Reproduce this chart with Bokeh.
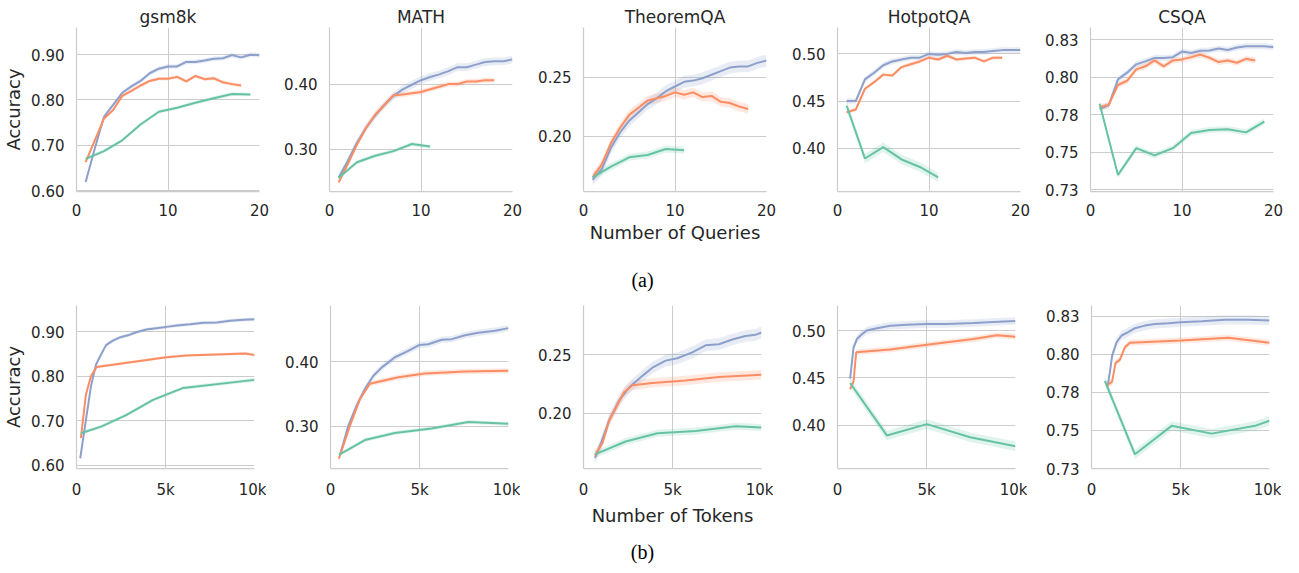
from bokeh.plotting import figure
from bokeh.layouts import column, row
from bokeh.models import Range1d, FixedTicker, Label
from bokeh.embed import file_html
from bokeh.resources import INLINE

# ---------------- data ----------------
datasets = ["gsm8k", "MATH", "TheoremQA", "HotpotQA", "CSQA"]
color_blue, color_orange, color_green = "#8da0cb", "#fc8d62", "#66c2a5"

# (a) accuracy vs number of queries
queries_blue = [1, 2, 3, 4, 5, 6, 7, 8, 9, 10, 11, 12, 13, 14, 15, 16, 17, 18, 19, 20]
queries_orange = [1, 2, 3, 4, 5, 6, 7, 8, 9, 10, 11, 12, 13, 14, 15, 16, 17, 18]
queries_green_long = [1, 3, 5, 7, 9, 11, 13, 15, 17, 19]
queries_green_short = [1, 3, 5, 7, 9, 11]

gsm8k_q_blue = [0.619, 0.693, 0.763, 0.789, 0.816, 0.830, 0.842, 0.859, 0.869, 0.874,
                0.874, 0.884, 0.884, 0.887, 0.891, 0.892, 0.899, 0.894, 0.900, 0.899]
gsm8k_q_orange = [0.663, 0.711, 0.759, 0.778, 0.809, 0.820, 0.832, 0.842, 0.847, 0.847,
                  0.851, 0.841, 0.853, 0.846, 0.848, 0.839, 0.835, 0.832]
gsm8k_q_green = [0.670, 0.687, 0.711, 0.746, 0.774, 0.783, 0.794, 0.804, 0.813, 0.812]

math_q_blue = [0.256, 0.282, 0.310, 0.333, 0.352, 0.368, 0.382, 0.392, 0.399, 0.406,
               0.411, 0.415, 0.420, 0.426, 0.426, 0.430, 0.434, 0.435, 0.435, 0.438]
math_q_orange = [0.249, 0.277, 0.307, 0.333, 0.353, 0.368, 0.383, 0.384, 0.386, 0.388,
                 0.392, 0.396, 0.400, 0.400, 0.404, 0.404, 0.406, 0.406]
math_q_green = [0.256, 0.280, 0.290, 0.297, 0.308, 0.304]

theoremqa_q_blue = [0.163, 0.172, 0.190, 0.203, 0.213, 0.220, 0.227, 0.232, 0.238, 0.242,
                    0.246, 0.247, 0.249, 0.252, 0.255, 0.258, 0.259, 0.259, 0.262, 0.264]
theoremqa_q_orange = [0.165, 0.176, 0.194, 0.207, 0.218, 0.224, 0.230, 0.232, 0.234, 0.237,
                      0.235, 0.237, 0.233, 0.234, 0.229, 0.228, 0.225, 0.223]
theoremqa_q_green = [0.165, 0.174, 0.182, 0.184, 0.189, 0.188]

hotpotqa_q_blue = [0.450, 0.450, 0.473, 0.480, 0.488, 0.492, 0.494, 0.496, 0.496, 0.500,
                   0.499, 0.500, 0.502, 0.501, 0.502, 0.502, 0.503, 0.504, 0.504, 0.504]
hotpotqa_q_orange = [0.438, 0.441, 0.463, 0.470, 0.478, 0.477, 0.486, 0.489, 0.492, 0.496,
                     0.494, 0.498, 0.494, 0.495, 0.496, 0.492, 0.496, 0.496]
hotpotqa_q_green = [0.445, 0.389, 0.401, 0.388, 0.380, 0.369]

csqa_q_blue = [0.7788, 0.7815, 0.7985, 0.8030, 0.8085, 0.8105, 0.8128, 0.8128, 0.8133, 0.8170,
               0.8160, 0.8175, 0.8177, 0.8190, 0.8180, 0.8197, 0.8205, 0.8205, 0.8205, 0.8200]
csqa_q_orange = [0.7800, 0.7817, 0.7948, 0.7976, 0.8052, 0.8072, 0.8111, 0.8072, 0.8111, 0.8118,
                 0.8133, 0.8150, 0.8129, 0.8100, 0.8111, 0.8096, 0.8122, 0.8111]
csqa_q_green = [0.7824, 0.7350, 0.7528, 0.7480, 0.7528, 0.7629, 0.7648, 0.7654, 0.7633, 0.7705]

# (b) accuracy vs number of tokens
gsm8k_t_blue_x = [210, 530, 810, 1090, 1380, 1660, 2040, 2415, 2890, 3360, 3920, 4490, 5060,
                  5620, 6380, 7130, 7890, 8640, 9400, 10000]
gsm8k_t_blue = [0.616, 0.702, 0.777, 0.826, 0.849, 0.870, 0.880, 0.887, 0.892, 0.899, 0.905,
                0.908, 0.911, 0.914, 0.917, 0.920, 0.921, 0.925, 0.927, 0.928]
gsm8k_t_orange_x = [245, 530, 810, 1130, 5060, 6190, 9490, 10000]
gsm8k_t_orange = [0.661, 0.759, 0.800, 0.821, 0.843, 0.847, 0.851, 0.848]
gsm8k_t_green_x = [245, 1380, 2790, 4300, 6000, 10000]
gsm8k_t_green = [0.672, 0.687, 0.713, 0.747, 0.774, 0.792]

math_t_blue_x = [525, 1000, 1460, 1930, 2400, 2870, 3620, 4370, 5000, 5490, 6250, 6810, 7560,
                 8310, 9250, 10000]
math_t_blue = [0.255, 0.301, 0.332, 0.358, 0.378, 0.391, 0.407, 0.417, 0.426, 0.427, 0.434,
               0.435, 0.441, 0.445, 0.448, 0.452]
math_t_orange_x = [470, 1090, 1650, 2210, 3810, 5310, 7560, 10000]
math_t_orange = [0.250, 0.301, 0.342, 0.366, 0.376, 0.382, 0.385, 0.386]
math_t_green_x = [470, 1930, 3620, 5680, 7750, 10000]
math_t_green = [0.256, 0.279, 0.290, 0.297, 0.307, 0.304]

theoremqa_t_blue_x = [640, 970, 1440, 2000, 2560, 3310, 3870, 4620, 5270, 6110, 6860, 7610,
                      8360, 9100, 9660, 10000]
theoremqa_t_blue = [0.162, 0.174, 0.194, 0.211, 0.222, 0.232, 0.239, 0.245, 0.247, 0.252,
                    0.258, 0.259, 0.263, 0.266, 0.267, 0.269]
theoremqa_t_orange_x = [640, 1070, 1440, 2280, 2750, 3870, 5740, 7610, 10000]
theoremqa_t_orange = [0.164, 0.175, 0.194, 0.218, 0.224, 0.226, 0.228, 0.231, 0.233]
theoremqa_t_green_x = [640, 2370, 4150, 6300, 8540, 10000]
theoremqa_t_green = [0.165, 0.176, 0.183, 0.185, 0.189, 0.188]

hotpotqa_t_blue_x = [710, 900, 1090, 1370, 1650, 2210, 2960, 3900, 5020, 6140, 7640, 8760, 10000]
hotpotqa_t_blue = [0.449, 0.482, 0.491, 0.496, 0.500, 0.5025, 0.505, 0.506, 0.507, 0.507,
                   0.508, 0.509, 0.510]
hotpotqa_t_orange_x = [710, 900, 1050, 2960, 5020, 7640, 8950, 10000]
hotpotqa_t_orange = [0.438, 0.446, 0.477, 0.480, 0.485, 0.491, 0.495, 0.4935]
hotpotqa_t_green_x = [710, 2770, 5020, 7450, 10000]
hotpotqa_t_green = [0.4445, 0.389, 0.401, 0.387, 0.3775]

csqa_t_blue_x = [900, 1030, 1160, 1410, 1690, 2060, 2440, 3000, 3560, 4320, 5000, 6190, 7500,
                 8820, 10000]
csqa_t_blue = [0.7787, 0.7881, 0.7991, 0.8079, 0.8123, 0.8145, 0.8171, 0.8188, 0.8199, 0.8204,
               0.8210, 0.8217, 0.8226, 0.8226, 0.8221]
csqa_t_orange_x = [840, 1160, 1350, 1590, 1880, 2160, 5000, 7690, 10000]
csqa_t_orange = [0.7793, 0.7820, 0.7943, 0.7963, 0.8046, 0.8075, 0.8090, 0.8108, 0.8075]
csqa_t_green_x = [750, 2440, 4500, 6750, 9190, 10000]
csqa_t_green = [0.7826, 0.7343, 0.7530, 0.7479, 0.7530, 0.7563]

# confidence band half widths (blue, orange, green) per dataset
ci_queries = [[0.005, 0.004, 0.004], [0.006, 0.004, 0.003], [0.005, 0.004, 0.003],
              [0.003, 0.002, 0.005], [0.002, 0.002, 0.002]]
ci_tokens = [[0.004, 0.003, 0.004], [0.005, 0.004, 0.003], [0.005, 0.004, 0.003],
             [0.004, 0.003, 0.005], [0.003, 0.002, 0.003]]

# tick values / labels
y_ticks = [[0.60, 0.70, 0.80, 0.90], [0.30, 0.40], [0.20, 0.25], [0.40, 0.45, 0.50],
           [0.725, 0.75, 0.775, 0.80, 0.825]]
y_tick_labels = [["0.60", "0.70", "0.80", "0.90"], ["0.30", "0.40"], ["0.20", "0.25"],
                 ["0.40", "0.45", "0.50"], ["0.73", "0.75", "0.78", "0.80", "0.83"]]
q_ticks = [0, 10, 20]
q_tick_labels = ["0", "10", "20"]
t_ticks = [0, 5000, 10000]
t_tick_labels = ["0", "5k", "10k"]

# ---------------- layout config ----------------
y_ranges_top = [(0.598, 0.960), (0.235, 0.487), (0.153, 0.292), (0.354, 0.528), (0.724, 0.833)]
y_ranges_bot = [(0.593, 0.959), (0.235, 0.487), (0.153, 0.292), (0.354, 0.5265), (0.725, 0.832)]

TXT = "#262626"
GRID = "#cccccc"


def make_panel(series, x_end, xticks, xlabels, yr, yticks, ylabels, left, fw, fh, top,
               title=None, ylabel=None, xlabel=None):
    kw = dict(frame_width=fw, frame_height=fh, x_range=Range1d(0, x_end),
              y_range=Range1d(*yr), output_backend="svg", toolbar_location=None,
              min_border_left=left, min_border_right=12, min_border_top=top,
              min_border_bottom=54, title=title)
    p = figure(**kw)
    p.outline_line_color = None
    p.background_fill_color = "white"
    p.border_fill_color = "white"
    if title is not None:
        p.title.align = "center"
        p.title.text_font = "DejaVu Sans"
        p.title.text_font_size = "17px"
        p.title.text_font_style = "normal"
        p.title.text_color = TXT
        p.title.standoff = 2
    for ax in (p.xaxis[0], p.yaxis[0]):
        ax.axis_line_color = GRID
        ax.axis_line_width = 1.25
        ax.major_tick_line_color = None
        ax.minor_tick_line_color = None
        ax.major_tick_out = 0
        ax.major_tick_in = 0
        ax.major_label_text_font = "DejaVu Sans"
        ax.major_label_text_font_size = "15px"
        ax.major_label_text_color = TXT
        ax.axis_label_text_font = "DejaVu Sans"
        ax.axis_label_text_font_size = "18px"
        ax.axis_label_text_font_style = "normal"
        ax.axis_label_text_color = TXT
    p.xaxis.ticker = FixedTicker(ticks=xticks)
    p.xaxis.major_label_overrides = dict(zip(xticks, xlabels))
    p.yaxis.ticker = FixedTicker(ticks=yticks)
    p.yaxis.major_label_overrides = dict(zip(yticks, ylabels))
    p.xaxis.major_label_standoff = 12
    p.yaxis.major_label_standoff = 12
    p.xaxis.axis_label_standoff = 3
    p.yaxis.axis_label_standoff = 4
    if xlabel:
        p.xaxis.axis_label = xlabel
    if ylabel:
        p.yaxis.axis_label = ylabel
    p.grid.grid_line_color = GRID
    p.grid.grid_line_width = 1
    for xs, ys, ci, col in series:
        lo = [v - ci for v in ys]
        hi = [v + ci for v in ys]
        p.varea(x=xs, y1=lo, y2=hi, fill_color=col, fill_alpha=0.2)
    for xs, ys, ci, col in series:
        p.line(xs, ys, line_color=col, line_width=2)
    return p


top_series = [
    [(queries_blue, gsm8k_q_blue), (queries_orange, gsm8k_q_orange), (queries_green_long, gsm8k_q_green)],
    [(queries_blue, math_q_blue), (queries_orange, math_q_orange), (queries_green_short, math_q_green)],
    [(queries_blue, theoremqa_q_blue), (queries_orange, theoremqa_q_orange), (queries_green_short, theoremqa_q_green)],
    [(queries_blue, hotpotqa_q_blue), (queries_orange, hotpotqa_q_orange), (queries_green_short, hotpotqa_q_green)],
    [(queries_blue, csqa_q_blue), (queries_orange, csqa_q_orange), (queries_green_long, csqa_q_green)],
]
bot_series = [
    [(gsm8k_t_blue_x, gsm8k_t_blue), (gsm8k_t_orange_x, gsm8k_t_orange), (gsm8k_t_green_x, gsm8k_t_green)],
    [(math_t_blue_x, math_t_blue), (math_t_orange_x, math_t_orange), (math_t_green_x, math_t_green)],
    [(theoremqa_t_blue_x, theoremqa_t_blue), (theoremqa_t_orange_x, theoremqa_t_orange), (theoremqa_t_green_x, theoremqa_t_green)],
    [(hotpotqa_t_blue_x, hotpotqa_t_blue), (hotpotqa_t_orange_x, hotpotqa_t_orange), (hotpotqa_t_green_x, hotpotqa_t_green)],
    [(csqa_t_blue_x, csqa_t_blue), (csqa_t_orange_x, csqa_t_orange), (csqa_t_green_x, csqa_t_green)],
]
cols = [color_blue, color_orange, color_green]

top_lefts = [75, 58, 59, 59, 58]
bot_lefts = [72, 64, 63, 64, 64]

top_figs = []
bot_figs = []
for i, name in enumerate(datasets):
    s = [(xs, ys, ci_queries[i][k], cols[k]) for k, (xs, ys) in enumerate(top_series[i])]
    top_figs.append(make_panel(s, 20, q_ticks, q_tick_labels, y_ranges_top[i], y_ticks[i],
                               y_tick_labels[i], top_lefts[i], 183, 164, 27, title=name,
                               ylabel="Accuracy" if i == 0 else None,
                               xlabel="Number of Queries" if i == 2 else None))
    s = [(xs, ys, ci_tokens[i][k], cols[k]) for k, (xs, ys) in enumerate(bot_series[i])]
    bot_figs.append(make_panel(s, 10000, t_ticks, t_tick_labels, y_ranges_bot[i], y_ticks[i],
                               y_tick_labels[i], bot_lefts[i], 178, 163, 10, title=None,
                               ylabel="Accuracy" if i == 0 else None,
                               xlabel="Number of Tokens" if i == 2 else None))


def caption(text, w, h, ypos):
    c = figure(width=w, height=h, x_range=Range1d(0, w), y_range=Range1d(0, h),
               x_axis_type=None, y_axis_type=None, output_backend="svg",
               toolbar_location=None, min_border=0, title=None)
    c.outline_line_color = None
    c.background_fill_color = "white"
    c.border_fill_color = "white"
    c.add_layout(Label(x=642, y=ypos, text=text, text_font="Liberation Serif",
                       text_font_size="20px", text_align="center",
                       text_baseline="middle", text_color="black"))
    return c


cap_a = caption("(a)", 1284, 50, 16)
cap_b = caption("(b)", 1284, 38, 15)

layout = column(row(*top_figs, spacing=0), cap_a, row(*bot_figs, spacing=0), cap_b, spacing=0)

with open("out.html", "w") as f:
    f.write(file_html(layout, INLINE))
